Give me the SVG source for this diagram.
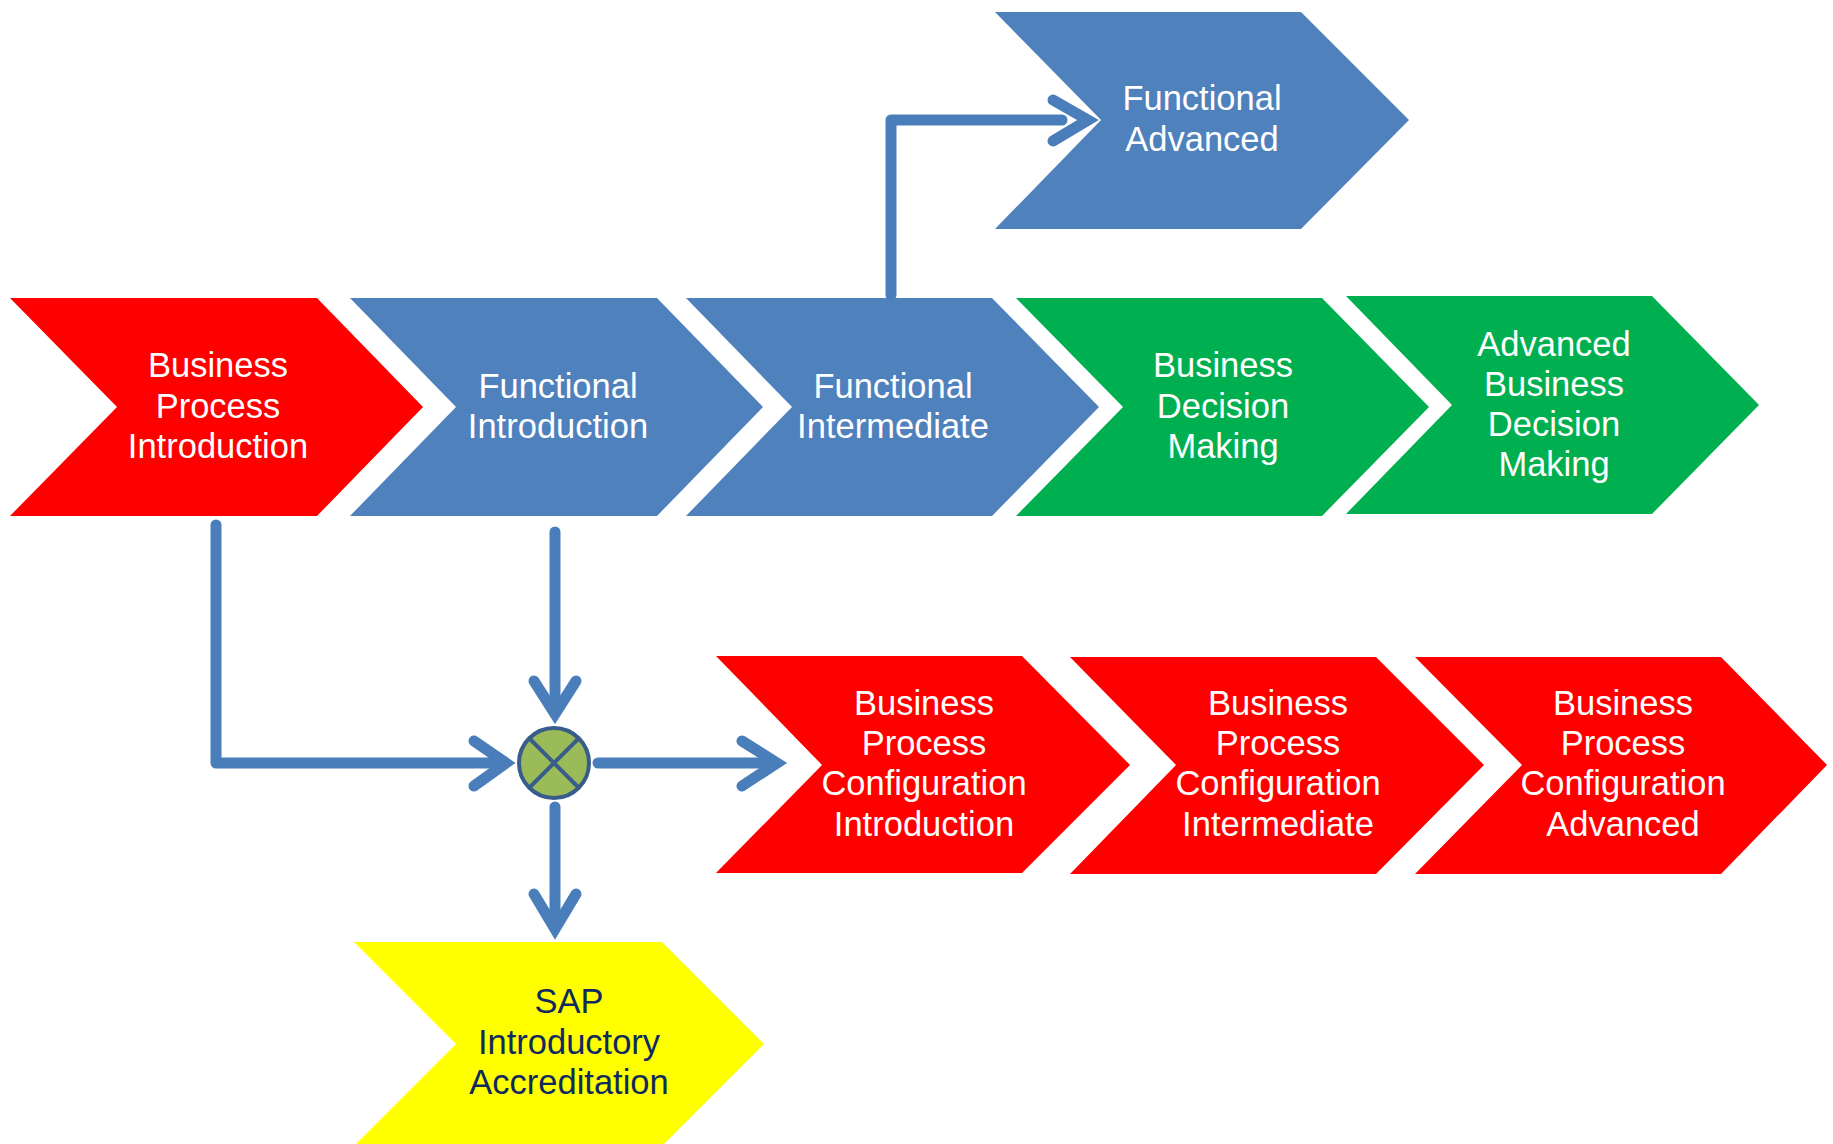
<svg xmlns="http://www.w3.org/2000/svg" width="1833" height="1144" viewBox="0 0 1833 1144">
<style>
.red{fill:#FF0000}.blue{fill:#4F81BD}.green{fill:#00B050}.yellow{fill:#FFFF00}
text{font-family:"Liberation Sans",Arial,sans-serif;font-size:34.5px;text-anchor:middle;fill:#FFFFFF}
.dark{fill:#10295E}
.ln{fill:none;stroke:#4A7EBB;stroke-width:11;stroke-linecap:round;stroke-linejoin:round}
.ah{fill:none;stroke:#4A7EBB;stroke-width:11;stroke-linecap:round;stroke-linejoin:miter;stroke-miterlimit:10}
</style>
<rect width="1833" height="1144" fill="#FFFFFF"/>
<g id="connectors">
<path class="ln" d="M891 295 V120 H1062"/>
<polyline class="ah" points="1053,100 1088,120 1053,141"/>
<path class="ln" d="M216 525 V763 H497"/>
<polyline class="ah" points="474,741 506,763 474,786"/>
<path class="ln" d="M555 532 V712"/>
<polyline class="ah" points="534,681 555,714 576,681"/>
<path class="ln" d="M598 763 H772"/>
<polyline class="ah" points="742,741 777,763 742,786"/>
<path class="ln" d="M555 807 V925"/>
<polyline class="ah" points="534,894 555,929 576,894"/>
</g>
<g id="junction">
<circle cx="554" cy="763" r="35" fill="#9BBB59" stroke="#385D8A" stroke-width="4"/>
<path d="M529 738 L579 788 M579 738 L529 788" stroke="#385D8A" stroke-width="4"/>
</g>
<g id="bpi">
<polygon class="red" points="10,298 317,298 423,407 317,516 10,516 117,407"/>
<text x="218" y="377">Business</text><text x="218" y="418">Process</text><text x="218" y="458">Introduction</text>
</g>
<g id="fi">
<polygon class="blue" points="350,298 657,298 763,407 657,516 350,516 456,407"/>
<text x="558" y="398">Functional</text><text x="558" y="438">Introduction</text>
</g>
<g id="fint">
<polygon class="blue" points="686,298 992,298 1099,407 992,516 686,516 792,407"/>
<text x="893" y="398">Functional</text><text x="893" y="438">Intermediate</text>
</g>
<g id="bdm">
<polygon class="green" points="1016,298 1322,298 1429,407 1322,516 1016,516 1123,407"/>
<text x="1223" y="377">Business</text><text x="1223" y="418">Decision</text><text x="1223" y="458">Making</text>
</g>
<g id="abdm">
<polygon class="green" points="1346,296 1652,296 1759,405 1652,514 1346,514 1452,405"/>
<text x="1554" y="356">Advanced</text><text x="1554" y="396">Business</text><text x="1554" y="436">Decision</text><text x="1554" y="476">Making</text>
</g>
<g id="fa">
<polygon class="blue" points="995,12 1301,12 1409,120 1301,229 995,229 1101,120"/>
<text x="1202" y="110">Functional</text><text x="1202" y="151">Advanced</text>
</g>
<g id="bpci">
<polygon class="red" points="716,656 1022,656 1130,765 1022,873 716,873 822,765"/>
<text x="924" y="715">Business</text><text x="924" y="755">Process</text><text x="924" y="795">Configuration</text><text x="924" y="836">Introduction</text>
</g>
<g id="bpcint">
<polygon class="red" points="1070,657 1376,657 1484,765 1376,874 1070,874 1176,765"/>
<text x="1278" y="715">Business</text><text x="1278" y="755">Process</text><text x="1278" y="795">Configuration</text><text x="1278" y="836">Intermediate</text>
</g>
<g id="bpcadv">
<polygon class="red" points="1415,657 1721,657 1827,765 1721,874 1415,874 1522,765"/>
<text x="1623" y="715">Business</text><text x="1623" y="755">Process</text><text x="1623" y="795">Configuration</text><text x="1623" y="836">Advanced</text>
</g>
<g id="sap">
<polygon class="yellow" points="354,942 662,942 764,1044 662,1146 354,1146 456,1044"/>
<text class="dark" x="569" y="1013">SAP</text><text class="dark" x="569" y="1054">Introductory</text><text class="dark" x="569" y="1094">Accreditation</text>
</g>
</svg>
